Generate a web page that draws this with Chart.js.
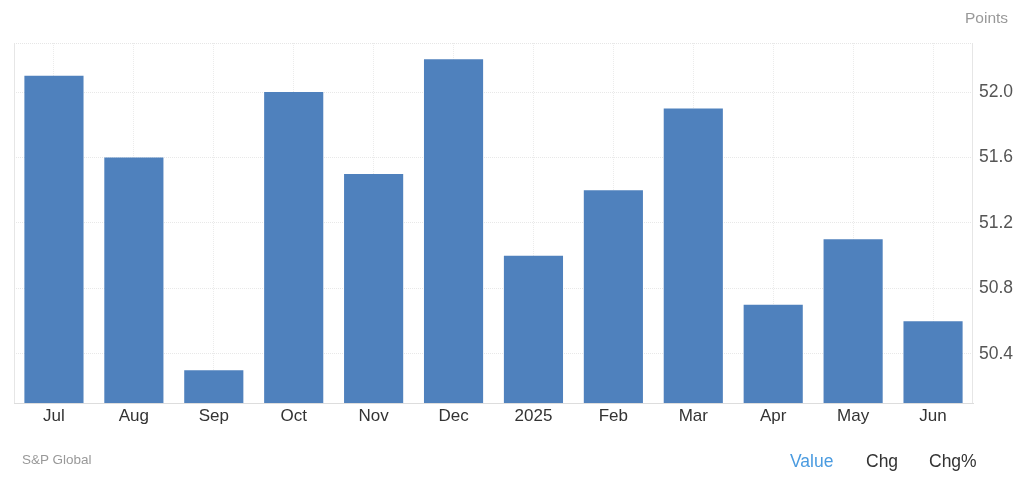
<!DOCTYPE html>
<html>
<head>
<meta charset="utf-8">
<script src="https://cdn.jsdelivr.net/npm/chart.js@4"></script>
<style>
  html, body { margin: 0; padding: 0; background: #fff; }
  #wrap { position: relative; width: 1024px; height: 482px; font-family: "Liberation Sans", Arial, sans-serif; }
  #chart { position: absolute; left: 0; top: 0; }
  .lbl { position: absolute; white-space: nowrap; }
</style>
</head>
<body>
<div id="wrap">
  <canvas id="chart" width="1024" height="482"></canvas>
  <div class="lbl" style="left:965px;top:9px;font-size:15.5px;color:#999;">Points</div>
  <div class="lbl" style="left:22px;top:452px;font-size:13.5px;color:#999;">S&amp;P Global</div>
  <div class="lbl" style="left:790px;top:451px;font-size:17.5px;color:#4a9be0;">Value</div>
  <div class="lbl" style="left:866px;top:451px;font-size:17.5px;color:#333;">Chg</div>
  <div class="lbl" style="left:929px;top:451px;font-size:17.5px;color:#333;">Chg%</div>
</div>
<script>
// Données
const months = ["Jul", "Aug", "Sep", "Oct", "Nov", "Dec", "2025", "Feb", "Mar", "Apr", "May", "Jun"]
const values = [52.1, 51.6, 50.3, 52.0, 51.5, 52.2, 51.0, 51.4, 51.9, 50.7, 51.1, 50.6]
const tickValues = [50.4, 50.8, 51.2, 51.6, 52.0]

// Cadre gris clair autour de la zone du graphique
const frame = {
  id: "frame",
  beforeDatasetsDraw(chart) {
    const { ctx, chartArea: { top, bottom, left, right } } = chart
    ctx.save()
    ctx.strokeStyle = "#e6e6e6"
    ctx.lineWidth = 1
    ctx.setLineDash([1, 1])
    ctx.beginPath()
    ctx.moveTo(left, top + 0.5)
    ctx.lineTo(right, top + 0.5)
    ctx.stroke()
    ctx.setLineDash([])
    ctx.beginPath()
    ctx.moveTo(left + 0.5, top)
    ctx.lineTo(left + 0.5, bottom)
    ctx.moveTo(right - 0.5, top)
    ctx.lineTo(right - 0.5, bottom)
    ctx.stroke()
    ctx.restore()
  }
}

new Chart(document.getElementById("chart"), {
  type: "bar",
  data: {
    labels: months,
    datasets: [{
      label: "Value",
      data: values,
      backgroundColor: "#4f81bd",
      borderWidth: 0,
      barPercentage: 0.74,
      categoryPercentage: 1.0,
    }],
  },
  options: {
    responsive: false,
    animation: false,
    layout: { padding: { left: 14, top: 43, right: 0, bottom: 49 } },
    plugins: {
      legend: { display: false },
      tooltip: { enabled: false },
    },
    scales: {
      x: {
        offset: true,
        grid: { offset: false, color: "#ececec", drawTicks: false },
        border: { display: true, color: "#dddddd", dash: [1, 1] },
        ticks: { color: "#333", font: { family: "Liberation Sans", size: 17 }, padding: 3 },
        afterFit(scale) { scale.height = 30 },
      },
      y: {
        position: "right",
        min: 50.1,
        max: 52.3,
        afterBuildTicks(scale) { scale.ticks = tickValues.map(v => ({ value: v })) },
        grid: { color: "#e8e8e8", drawTicks: false },
        border: { display: false, dash: [1, 1] },
        ticks: {
          color: "#555",
          font: { family: "Liberation Sans", size: 17.5 },
          padding: 6,
          callback: v => v.toFixed(1),
        },
        afterFit(scale) { scale.width = 51 },
      },
    },
  },
  plugins: [frame],
})
</script>
</body>
</html>
